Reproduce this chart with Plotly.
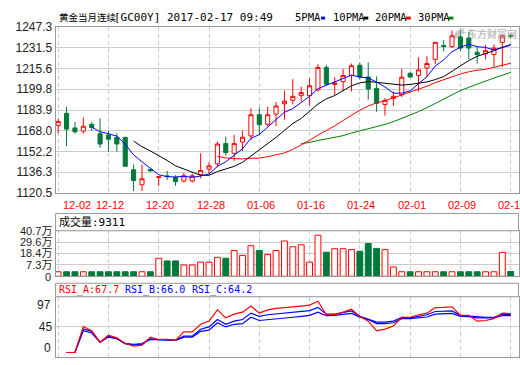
import plotly.graph_objects as go

W, H = 520, 365

# ---------------- data ----------------
dates = [
    "2016-12-02", "2016-12-05", "2016-12-06", "2016-12-07", "2016-12-08", "2016-12-09",
    "2016-12-12", "2016-12-13", "2016-12-14", "2016-12-15", "2016-12-16", "2016-12-19",
    "2016-12-20", "2016-12-21", "2016-12-22", "2016-12-23", "2016-12-26", "2016-12-27",
    "2016-12-28", "2016-12-29", "2016-12-30", "2017-01-03", "2017-01-04", "2017-01-05",
    "2017-01-06", "2017-01-09", "2017-01-10", "2017-01-11", "2017-01-12", "2017-01-13",
    "2017-01-16", "2017-01-17", "2017-01-18", "2017-01-19", "2017-01-20", "2017-01-23",
    "2017-01-24", "2017-01-25", "2017-01-26", "2017-01-27", "2017-01-30", "2017-01-31",
    "2017-02-01", "2017-02-02", "2017-02-03", "2017-02-06", "2017-02-07", "2017-02-08",
    "2017-02-09", "2017-02-10", "2017-02-13", "2017-02-14", "2017-02-15", "2017-02-16",
    "2017-02-17",
]

open_ = [1172.2, 1181.3, 1170.2, 1167.8, 1172.9, 1165.8, 1164.8, 1162.9, 1162.9, 1138.2,
         1126.7, 1138.5, 1132.3, 1133.5, 1132.3, 1129.6, 1129.6, 1134.5, 1138.7, 1142.7,
         1158.2, 1150.8, 1159.4, 1164.1, 1180.3, 1173.0, 1180.8, 1188.7, 1191.4, 1194.9,
         1194.9, 1199.3, 1216.5, 1203.5, 1205.5, 1210.4, 1218.2, 1209.2, 1200.5, 1188.2,
         1192.9, 1195.6, 1212.1, 1210.4, 1216.0, 1222.7, 1233.3, 1232.5, 1239.9, 1239.0,
         1228.1, 1226.9, 1226.4, 1235.7, 1241.0]
high = [1177.1, 1186.5, 1174.7, 1178.4, 1174.7, 1177.6, 1168.0, 1166.1, 1163.6, 1142.2,
        1142.2, 1138.9, 1133.2, 1137.3, 1134.1, 1135.9, 1135.3, 1150.8, 1143.9, 1159.9,
        1163.6, 1164.8, 1168.0, 1185.3, 1185.7, 1186.5, 1190.0, 1198.8, 1207.4, 1201.8,
        1208.4, 1219.0, 1218.5, 1209.1, 1215.3, 1219.5, 1220.2, 1220.2, 1209.6, 1193.1,
        1198.1, 1215.3, 1212.6, 1224.4, 1225.1, 1236.0, 1237.3, 1244.8, 1244.8, 1243.6,
        1232.5, 1233.8, 1234.2, 1241.6, 1242.3]
low = [1166.1, 1156.2, 1165.8, 1165.8, 1168.0, 1155.0, 1152.0, 1152.0, 1140.5, 1121.9,
       1121.9, 1137.0, 1125.6, 1130.4, 1126.0, 1128.4, 1128.4, 1131.6, 1135.3, 1140.4,
       1148.8, 1145.0, 1152.5, 1161.0, 1165.3, 1171.0, 1171.7, 1176.6, 1188.2, 1190.7,
       1187.5, 1198.1, 1203.0, 1195.6, 1198.1, 1198.1, 1207.3, 1191.9, 1182.6, 1179.6,
       1187.0, 1193.9, 1208.8, 1198.1, 1209.2, 1219.0, 1228.8, 1231.3, 1229.0, 1222.7,
       1219.5, 1222.7, 1217.0, 1217.0, 1238.6]
close = [1175.2, 1169.3, 1167.3, 1171.5, 1170.5, 1157.9, 1161.6, 1157.9, 1140.9, 1129.9,
         1131.3, 1137.3, 1132.8, 1133.0, 1129.1, 1133.6, 1133.6, 1137.7, 1141.2, 1157.9,
         1151.3, 1158.2, 1163.1, 1180.3, 1172.7, 1180.3, 1187.0, 1190.7, 1194.4, 1197.3,
         1202.5, 1216.5, 1203.7, 1204.7, 1210.4, 1217.8, 1209.2, 1200.0, 1189.0, 1191.4,
         1194.4, 1209.1, 1209.2, 1214.6, 1219.5, 1235.7, 1232.5, 1240.7, 1231.3, 1231.3,
         1226.4, 1229.3, 1231.3, 1240.7, 1240.5]

N = None
pma5 = [N, N, N, N, 1170.8, 1167.3, 1165.8, 1163.9, 1157.8, 1149.6,
        1144.3, 1139.5, 1134.4, 1132.9, 1132.7, 1133.2, 1132.4, 1133.4, 1135.0, 1140.8,
        1144.3, 1149.3, 1154.3, 1162.2, 1165.1, 1170.9, 1176.7, 1182.2, 1185.0, 1189.9,
        1194.4, 1200.3, 1202.9, 1204.9, 1207.6, 1210.6, 1209.2, 1208.4, 1205.3, 1201.5,
        1196.8, 1196.8, 1198.6, 1203.7, 1209.4, 1217.6, 1222.3, 1228.6, 1231.9, 1234.3,
        1232.4, 1231.8, 1229.9, 1231.8, 1233.6]
pma10 = [N, N, N, N, N, N, N, N, N, 1160.2,
         1155.8, 1152.6, 1149.2, 1145.3, 1141.2, 1138.7, 1135.9, 1133.9, 1134.0, 1136.8,
         1138.8, 1140.8, 1143.9, 1148.6, 1153.0, 1157.6, 1163.0, 1168.3, 1173.6, 1177.5,
         1182.7, 1188.5, 1192.5, 1195.0, 1198.8, 1202.5, 1204.7, 1205.7, 1205.1, 1204.5,
         1203.7, 1203.0, 1203.5, 1204.5, 1205.4, 1207.2, 1209.5, 1213.6, 1217.8, 1221.8,
         1225.0, 1227.1, 1229.3, 1231.9, 1234.0]
pma20 = [N] * 19 + [1148.5,
         1147.3, 1146.7, 1146.5, 1147.0, 1147.1, 1148.2, 1149.5, 1151.1, 1153.8, 1157.1,
         1160.7, 1164.7, 1168.2, 1171.8, 1175.9, 1180.1, 1183.8, 1187.0, 1189.4, 1191.0,
         1193.2, 1195.7, 1198.0, 1199.7, 1202.1, 1204.9, 1207.1, 1209.6, 1211.5, 1213.2,
         1214.4, 1215.0, 1216.4, 1218.2, 1219.7]
pma30 = [N] * 29 + [1158.2,
         1159.1, 1160.6, 1161.9, 1163.0, 1164.3, 1166.3, 1167.9, 1169.3, 1170.9, 1172.9,
         1175.0, 1177.4, 1180.0, 1182.7, 1185.7, 1189.1, 1192.4, 1195.8, 1198.8, 1201.3,
         1203.8, 1206.2, 1208.4, 1210.5, 1212.7]

# volume in 万 (10k) units
volume_wan = [0.7, 0.7, 0.7, 0.7, 0.7, 0.7, 0.7, 0.7, 0.7, 0.7,
              0.7, 0.7, 13.9, 11.3, 11.3, 7.3, 7.3, 10.1, 10.1, 14.8,
              13.9, 21.4, 16.7, 26.1, 21.4, 17.6, 21.4, 30.7, 25.1, 27.0,
              10.1, 36.4, 19.8, 23.2, 23.2, 22.3, 20.7, 28.2, 23.5, 22.3,
              5.4, 0.7, 0.7, 0.7, 0.7, 0.7, 0.7, 0.7, 0.7, 0.7,
              0.7, 0.7, 0.7, 19.5, 0.93]

rsi_a = [N, 0, 0, 45.1, 37.8, 17.8, 30.1, 25.6, 15.6, 11.1,
         12.7, 26.8, 22.7, 22.7, 21.1, 36.0, 36.0, 49.1, 54.6, 74.1,
         60.2, 66.8, 70.2, 80.8, 68.5, 74.1, 76.9, 78.0, 79.0, 80.8,
         82.4, 89.1, 65.7, 65.7, 70.2, 75.2, 62.9, 54.6, 37.8, 40.6,
         46.2, 61.3, 61.3, 65.7, 68.5, 78.0, 78.5, 79.6, 64.6, 64.6,
         54.6, 55.7, 59.0, 68.5, 67.7]
rsi_b = [N, 0, 0, 41.1, 36.8, 17.8, 28.4, 24.4, 15.6, 13.4,
         14.4, 23.9, 22.2, 22.2, 21.1, 28.4, 28.4, 40.6, 44.5, 57.4,
         49.1, 54.6, 57.4, 68.5, 62.9, 65.7, 67.4, 68.5, 69.6, 71.3,
         73.0, 78.5, 66.8, 66.8, 69.6, 72.4, 62.9, 58.5, 52.9, 52.9,
         54.6, 61.3, 60.2, 62.9, 65.7, 71.3, 71.3, 72.4, 64.6, 63.5,
         61.3, 61.3, 61.3, 66.8, 66.0]
rsi_c = [N, 0, 0, 37.8, 33.9, 17.8, 26.8, 23.9, 15.6, 14.4,
         15.6, 22.7, 21.7, 21.7, 21.1, 26.8, 26.8, 36.8, 39.0, 51.8,
         44.5, 49.1, 50.2, 61.3, 55.7, 57.4, 59.0, 60.2, 61.3, 62.9,
         64.6, 70.2, 64.0, 64.6, 65.7, 68.0, 61.3, 57.4, 50.2, 50.2,
         51.8, 59.0, 59.0, 60.2, 61.8, 66.8, 66.8, 68.0, 62.9, 62.4,
         60.2, 60.2, 60.2, 64.0, 64.2]

price_ticks = [1120.5, 1136.3, 1152.2, 1168.0, 1183.9, 1199.8, 1215.6, 1231.5, 1247.3]
volume_ticks = [7.3, 18.4, 29.6, 40.7]
volume_floor = -3.7          # value at the bottom edge of the volume panel (labelled "0")
rsi_ticks = [97, 45, 0]
date_tick_idx = [0, 6, 12, 18, 24, 30, 36, 42, 48, 54]

title_name = "黄金当月连续"
title_rest = "[GC00Y] 2017-02-17 09:49"
ma_names = ["5PMA", "10PMA", "20PMA", "30PMA"]
volume_title = "成交量:9311"
rsi_titles = ["RSI_A:67.7", "RSI_B:66.0", "RSI_C:64.2"]

# ---------------- styling ----------------
RED = "#ff0000"
GREEN = "#007a3a"
BLUE = "#0000ff"
BLACK = "#000000"
MAGREEN = "#008000"
GRID = "#cccccc"
FRAME = "#999999"
LABEL = "#222222"
MONO_CJK = "DejaVu Sans Mono, Noto Sans CJK SC"
SANS_CJK = "Liberation Sans, Noto Sans CJK SC"


def fx(px):
    return px / W


def fy(px):
    return 1 - px / H


X_L, X_R = 55.7, 519.5
x_dom = [fx(X_L), fx(X_R)]
c0, step = 58.3, 8.396
x_range = [(X_L - c0) / step, (X_R - c0) / step]

idx = list(range(len(dates)))
up = [c >= o for o, c in zip(open_, close)]

fig = go.Figure()

fig.add_trace(go.Candlestick(
    x=idx, open=open_, high=high, low=low, close=close,
    increasing=dict(line=dict(color=RED, width=1), fillcolor="white"),
    decreasing=dict(line=dict(color=GREEN, width=1), fillcolor=GREEN),
    whiskerwidth=0, xaxis="x", yaxis="y", hoverinfo="skip",
))
for ys, col in [(pma30, MAGREEN), (pma20, RED), (pma10, BLACK), (pma5, BLUE)]:
    fig.add_trace(go.Scatter(x=idx, y=ys, mode="lines", line=dict(color=col, width=1),
                             xaxis="x", yaxis="y", hoverinfo="skip"))

# bars rise from the bottom edge of the panel, as in the original
fig.add_trace(go.Bar(
    x=idx, y=[v - volume_floor for v in volume_wan], base=volume_floor,
    marker=dict(color=["white" if u else GREEN for u in up],
                line=dict(color=[RED if u else GREEN for u in up], width=1)),
    xaxis="x2", yaxis="y2", hoverinfo="skip",
))

for ys, col in [(rsi_c, BLUE), (rsi_b, BLUE), (rsi_a, RED)]:
    fig.add_trace(go.Scatter(x=idx, y=ys, mode="lines", line=dict(color=col, width=1.2),
                             xaxis="x3", yaxis="y3", hoverinfo="skip"))

common_x = dict(range=x_range, domain=x_dom, tickvals=date_tick_idx, showticklabels=False,
                showgrid=True, gridcolor=GRID, griddash="4px,3px", gridwidth=1,
                zeroline=False, showline=True, mirror=True, linecolor=FRAME, linewidth=1,
                ticks="", fixedrange=True)


def common_y(size):
    return dict(showgrid=True, gridcolor=GRID, gridwidth=1, zeroline=False, showline=True,
                mirror=True, linecolor=FRAME, linewidth=1, ticks="", fixedrange=True,
                tickfont=dict(family=SANS_CJK, size=size, color=LABEL))


# rsi scale: 0 at y=359.3px, 97 at top 301.3px
rsi_px_per = (359.3 - 301.3) / 97.0
rsi_range = [-(364 - 359.3) / rsi_px_per, 97]

fig.update_layout(
    width=W, height=H, autosize=False,
    margin=dict(l=0, r=0, t=0, b=0),
    paper_bgcolor="white", plot_bgcolor="white",
    showlegend=False, hovermode=False, dragmode=False,
    boxgap=0.3, bargap=0.3,
    xaxis=dict(anchor="y", rangeslider=dict(visible=False), **common_x),
    xaxis2=dict(anchor="y2", **common_x),
    xaxis3=dict(anchor="y3", **common_x),
    yaxis=dict(anchor="x", domain=[fy(193.3), fy(21.0)], range=[price_ticks[0], price_ticks[-1]],
               tickvals=price_ticks, ticktext=[f"{v:.1f}" for v in price_ticks], **common_y(12)),
    yaxis2=dict(anchor="x2", domain=[fy(280.0), fy(232.7)], range=[volume_floor, volume_ticks[-1]],
                tickvals=volume_ticks, ticktext=[f"{v:.1f}万" for v in volume_ticks],
                **common_y(11)),
    yaxis3=dict(anchor="x3", domain=[fy(364.0), fy(301.3)], range=rsi_range,
                tickvals=[45], ticktext=["45"], **common_y(12)),
)

ann = []
shapes = []

# title: name + code/time (right end pinned like the original)
ann.append(dict(x=fx(57), y=fy(10.5), xref="paper", yref="paper", text=title_name,
                showarrow=False, xanchor="left", yanchor="middle",
                font=dict(family="Noto Sans CJK SC", size=9.5, color=BLACK)))
ann.append(dict(x=fx(275.5), y=fy(10.5), xref="paper", yref="paper", text=title_rest,
                showarrow=False, xanchor="right", yanchor="middle",
                font=dict(family=MONO_CJK, size=11, color=BLACK)))
# MA legend
legend_pos = [(294.0, 321.7, 325.7, BLUE), (331.7, 364.3, 369.0, BLACK),
              (374.0, 406.7, 411.7, RED), (416.7, 449.3, 454.3, MAGREEN)]
for name, (tx, r0, r1, col) in zip(ma_names, legend_pos):
    ann.append(dict(x=fx(tx), y=fy(10.5), xref="paper", yref="paper", text=name,
                    showarrow=False, xanchor="left", yanchor="middle",
                    font=dict(family=MONO_CJK, size=10.5, color=BLACK)))
    shapes.append(dict(type="rect", xref="paper", yref="paper", x0=fx(r0), x1=fx(r1),
                       y0=fy(13.0), y1=fy(10.0), fillcolor=col, line=dict(width=0)))

# date labels
for k, i in enumerate(date_tick_idx):
    first = k == 0
    ann.append(dict(x=i, y=fy(206), xref="x", yref="paper", text=dates[i][5:],
                    showarrow=False, xanchor="left" if first else "center",
                    yanchor="middle", xshift=2.4 if first else 1.5,
                    font=dict(family="Liberation Sans", size=11, color=RED)))

# volume header
shapes.append(dict(type="rect", xref="paper", yref="paper", x0=x_dom[0], x1=x_dom[1],
                   y0=fy(232.7), y1=fy(214.7), line=dict(color=FRAME, width=1),
                   fillcolor="white"))
ann.append(dict(x=fx(57.5), y=fy(224), xref="paper", yref="paper", text=volume_title,
                showarrow=False, xanchor="left", yanchor="middle",
                font=dict(family=MONO_CJK, size=11, color=BLACK)))
# bottom label of the volume panel
ann.append(dict(x=fx(52.8), y=fy(280.7), xref="paper", yref="paper", text="0",
                showarrow=False, xanchor="right", yanchor="middle",
                font=dict(family="Liberation Sans", size=11, color=LABEL)))

# rsi header
shapes.append(dict(type="rect", xref="paper", yref="paper", x0=x_dom[0], x1=x_dom[1],
                   y0=fy(301.3), y1=fy(287.3), line=dict(color=FRAME, width=1),
                   fillcolor="white"))
for t, tx, col in zip(rsi_titles, [57.5, 123.3, 190.0], [RED, BLUE, BLUE]):
    ann.append(dict(x=fx(tx), y=fy(294.5), xref="paper", yref="paper", text=t,
                    showarrow=False, xanchor="left", yanchor="middle",
                    font=dict(family=MONO_CJK, size=10, color=col)))
# rsi outer labels (drawn inside the panel like the original)
for t, py in [(str(rsi_ticks[0]), 310.0), (str(rsi_ticks[2]), 355.0)]:
    ann.append(dict(x=fx(52.8), y=fy(py), xref="paper", yref="paper", text=t,
                    showarrow=False, xanchor="right", yanchor="middle",
                    font=dict(family="Liberation Sans", size=12, color=LABEL)))

# watermark
ann.append(dict(x=fx(493), y=fy(28), xref="paper", yref="paper", text="<b>东方财富网</b>",
                showarrow=False, xanchor="center", yanchor="middle",
                font=dict(family="Noto Sans CJK SC", size=10, color="rgba(150,150,150,0.6)")))
shapes.append(dict(type="path", xref="paper", yref="paper",
                   path=(f"M {fx(466)},{fy(22)} Q {fx(452)},{fy(24)} {fx(456)},{fy(34)} "
                         f"Q {fx(460)},{fy(28)} {fx(468)},{fy(27)} Q {fx(462)},{fy(25)} {fx(466)},{fy(22)} Z"),
                   fillcolor="rgba(160,160,160,0.55)", line=dict(width=0)))

fig.update_layout(annotations=ann, shapes=shapes)

fig.write_html(
    "out.html",
    config={"displayModeBar": False, "staticPlot": True},
    post_script="document.body.style.margin='0px';document.body.style.overflow='hidden';",
)
